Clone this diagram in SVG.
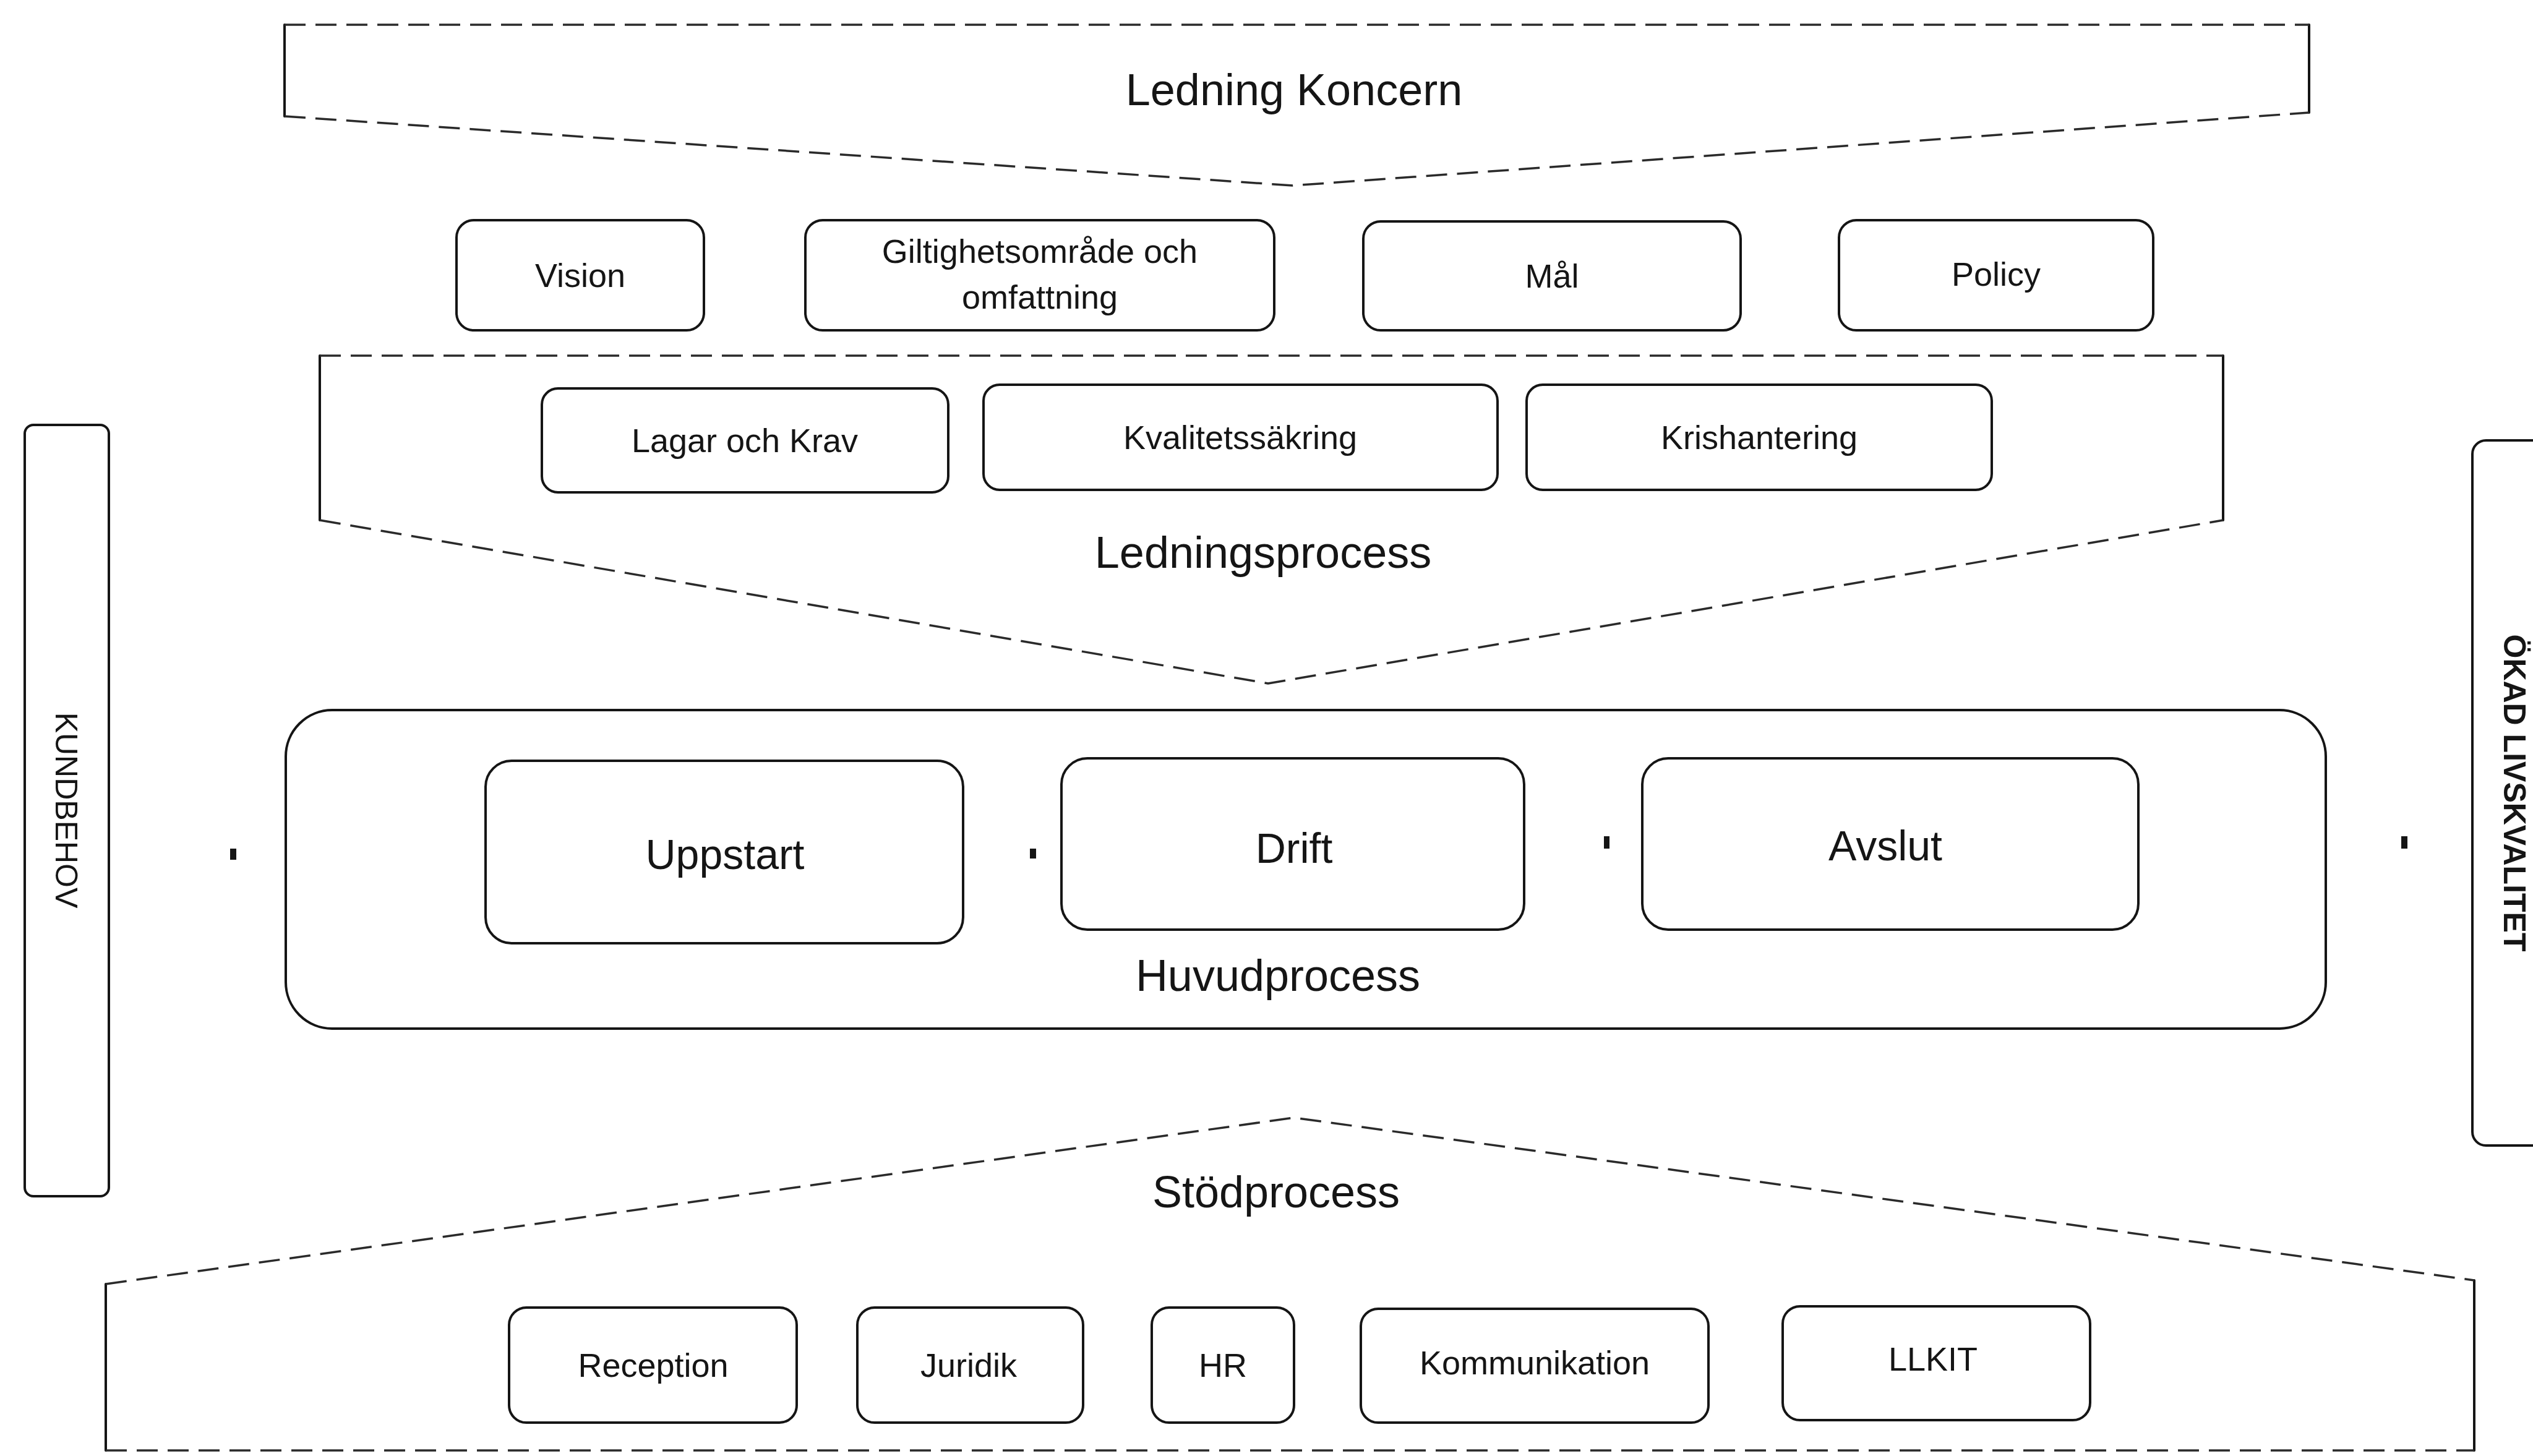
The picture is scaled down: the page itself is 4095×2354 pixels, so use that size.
<svg xmlns="http://www.w3.org/2000/svg" width="4095" height="2354" viewBox="0 0 4095 2354">
<style>
.bg{fill:#ffffff}
.solid{fill:none;stroke:#151515;stroke-width:4;stroke-linecap:round}
.dash{fill:none;stroke:#2a2a2a;stroke-width:3.5;stroke-dasharray:34 16;stroke-linejoin:round}
.box{fill:none;stroke:#151515;stroke-width:4}
.t{font-family:"Liberation Sans",Arial,sans-serif;fill:#151515;text-anchor:middle}
.big{font-size:72px}
.mid{font-size:68px}
.sm{font-size:54px}
.side{font-size:50px}
.dot{fill:#151515}
</style>
<rect class="bg" x="0" y="0" width="4095" height="2354"/>

<g id="ledning-koncern">
<path class="solid" d="M460,40 V188 M3733,40 V182"/>
<path class="dash" d="M460,40 H3733 M460,188 L2090,300 L3733,182"/>
<text class="t big" x="2092" y="170">Ledning Koncern</text>
</g>

<g id="vision"><rect class="box" x="738" y="356" width="400" height="178" rx="28"/><text class="t sm" x="938" y="464">Vision</text></g>
<g id="giltighet"><rect class="box" x="1302" y="356" width="758" height="178" rx="28"/><text class="t sm" x="1681" y="425">Giltighetsområde och</text><text class="t sm" x="1681" y="499">omfattning</text></g>
<g id="mal"><rect class="box" x="2204" y="358" width="610" height="176" rx="28"/><text class="t sm" x="2509" y="465">Mål</text></g>
<g id="policy"><rect class="box" x="2973" y="356" width="508" height="178" rx="28"/><text class="t sm" x="3227" y="462">Policy</text></g>

<g id="ledningsprocess">
<path class="solid" d="M517,575 V841 M3594,575 V841"/>
<path class="dash" d="M517,575 H3594 M517,841 L2050,1105 L3594,841"/>
<text class="t big" x="2042" y="918">Ledningsprocess</text>
</g>
<g id="lagar"><rect class="box" x="876" y="628" width="657" height="168" rx="26"/><text class="t sm" x="1204" y="731">Lagar och Krav</text></g>
<g id="kvalitet"><rect class="box" x="1590" y="622" width="831" height="170" rx="26"/><text class="t sm" x="2005" y="726">Kvalitetssäkring</text></g>
<g id="kris"><rect class="box" x="2468" y="622" width="752" height="170" rx="26"/><text class="t sm" x="2844" y="726">Krishantering</text></g>

<g id="huvudprocess">
<rect class="box" x="462" y="1148" width="3298" height="515" rx="75"/>
<text class="t big" x="2066" y="1602">Huvudprocess</text>
</g>
<g id="uppstart"><rect class="box" x="785" y="1230" width="772" height="295" rx="42"/><text class="t mid" x="1172" y="1405">Uppstart</text></g>
<g id="drift"><rect class="box" x="1716" y="1226" width="748" height="277" rx="42"/><text class="t mid" x="2092" y="1395">Drift</text></g>
<g id="avslut"><rect class="box" x="2655" y="1226" width="802" height="277" rx="42"/><text class="t mid" x="3048" y="1391">Avslut</text></g>

<g id="stodprocess">
<path class="solid" d="M171,2076 V2345 M4000,2070 V2345"/>
<path class="dash" d="M171,2076 L2092,1807 L4000,2070 M171,2345 H4000"/>
<text class="t big" x="2063" y="1952">Stödprocess</text>
</g>
<g id="reception"><rect class="box" x="823" y="2114" width="465" height="186" rx="28"/><text class="t sm" x="1056" y="2226">Reception</text></g>
<g id="juridik"><rect class="box" x="1386" y="2114" width="365" height="186" rx="28"/><text class="t sm" x="1566" y="2226">Juridik</text></g>
<g id="hr"><rect class="box" x="1862" y="2114" width="230" height="186" rx="28"/><text class="t sm" x="1977" y="2226">HR</text></g>
<g id="kommunikation"><rect class="box" x="2200" y="2116" width="562" height="184" rx="28"/><text class="t sm" x="2481" y="2222">Kommunikation</text></g>
<g id="llkit"><rect class="box" x="2882" y="2112" width="497" height="184" rx="28"/><text class="t sm" x="3125" y="2216">LLKIT</text></g>

<g id="kundbehov">
<rect class="box" x="40" y="687" width="136" height="1247" rx="14"/>
<text class="t side" transform="translate(90,1310) rotate(90)">KUNDBEHOV</text>
</g>
<g id="okad-livskvalitet">
<rect class="box" x="3997" y="712" width="200" height="1140" rx="22"/>
<text class="t side" font-weight="bold" transform="translate(4048,1282) rotate(90)">ÖKAD LIVSKVALITET</text>
</g>

<g id="connectors">
<rect class="dot" x="372" y="1372" width="10" height="18"/>
<rect class="dot" x="1665" y="1372" width="10" height="16"/>
<rect class="dot" x="2593" y="1352" width="9" height="20"/>
<rect class="dot" x="3882" y="1352" width="10" height="20"/>
</g>
</svg>
